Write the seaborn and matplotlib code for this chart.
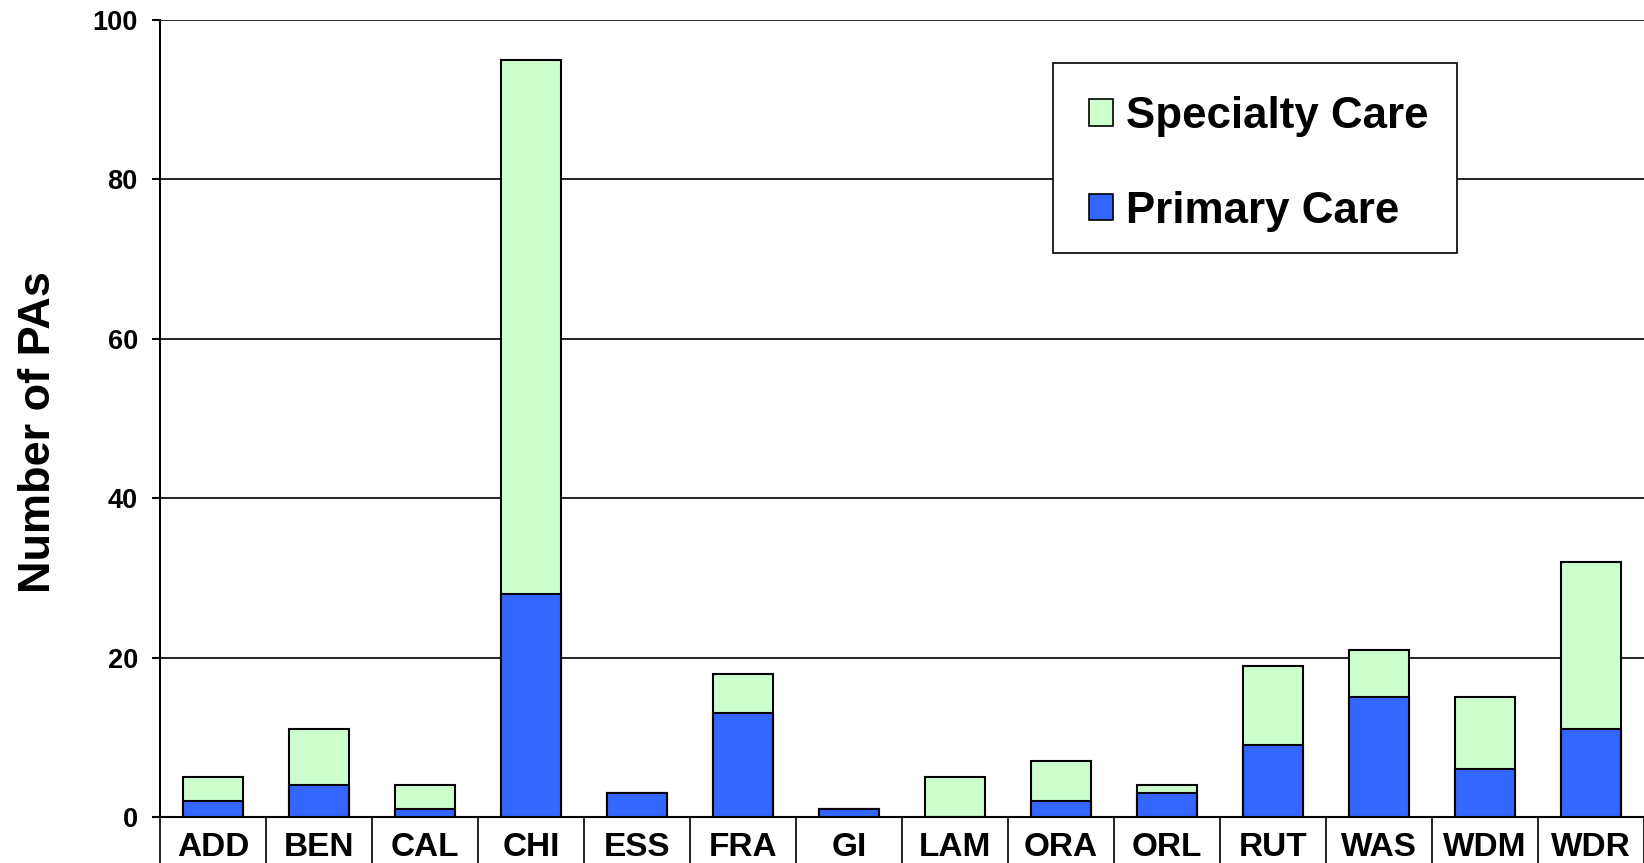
import pandas as pd
import matplotlib
matplotlib.use('Agg')
import matplotlib.pyplot as plt
import matplotlib.transforms as mtransforms
from matplotlib.patches import Patch, Rectangle
import seaborn as sns

# Chart data
programs = ['ADD', 'BEN', 'CAL', 'CHI', 'ESS', 'FRA', 'GI', 'LAM', 'ORA', 'ORL', 'RUT', 'WAS', 'WDM', 'WDR']
primary_care = [2, 4, 1, 28, 3, 13, 1, 0, 2, 3, 9, 15, 6, 11]
specialty_care = [3, 7, 3, 67, 0, 5, 0, 5, 5, 1, 10, 6, 9, 21]
y_ticks = [0, 20, 40, 60, 80, 100]

green = '#CCFFCC'
blue = '#3366FF'

sns.set_style('white')
plt.rcParams['font.family'] = ['Liberation Sans', 'DejaVu Sans']
plt.rcParams['font.weight'] = 'bold'
plt.rcParams['text.color'] = 'black'
plt.rcParams['xtick.color'] = 'black'
plt.rcParams['ytick.color'] = 'black'

df = pd.DataFrame({'program': programs, 'primary': primary_care, 'specialty': specialty_care})
df['total'] = df['primary'] + df['specialty']

W, H = 1644, 863
fig = plt.figure(figsize=(W / 100, H / 100), dpi=100)
ax = fig.add_axes([160 / W, 46 / H, 1484 / W, 797 / H])

# stacked bars: total (green) behind, primary (blue) in front
sns.barplot(data=df, x='program', y='total', color=green, width=0.575,
            edgecolor='black', linewidth=1.5, saturation=1, ax=ax, zorder=3)
sns.barplot(data=df, x='program', y='primary', color=blue, width=0.575,
            edgecolor='black', linewidth=1.5, saturation=1, ax=ax, zorder=3)

ax.set_xlim(-0.5, len(programs) - 0.5)
ax.set_ylim(0, 100)
ax.set_yticks(y_ticks)
ax.set_yticklabels([str(t) for t in y_ticks], fontsize=19.5, fontweight='bold', color='black')
ax.tick_params(axis='y', length=6, width=1.5, pad=10, left=True, color='black')
ax.tick_params(axis='x', length=0, pad=11, labelsize=24, labelcolor='black')
for lbl in ax.get_xticklabels():
    lbl.set_fontweight('bold')
ax.set_xlabel('')
ax.set_ylabel('')

# gridlines
ax.yaxis.grid(True, color='black', linewidth=1.2)
ax.set_axisbelow(True)
for side in ['top', 'right']:
    ax.spines[side].set_visible(False)
ax.spines['left'].set_linewidth(1.5)
ax.spines['bottom'].set_linewidth(1.5)
ax.spines['left'].set_color('black')
ax.spines['bottom'].set_color('black')

# table-like separators below the axis
trans = mtransforms.blended_transform_factory(ax.transData, ax.transAxes)
for i in range(len(programs) + 1):
    ax.plot([i - 0.5, i - 0.5], [0, -0.1], transform=trans, color='black',
            linewidth=1.2, clip_on=False)

fig.text(38 / W, 1 - 432 / H, 'Number of PAs', rotation=90, ha='center', va='center',
         fontsize=32.5, fontweight='bold', color='black')

# legend box drawn separately so the padding can match
ax.add_patch(Rectangle((1053 / W, 1 - 253 / H), 404 / W, 190 / H, transform=fig.transFigure,
                       facecolor='white', edgecolor='black', linewidth=1.2, zorder=4,
                       clip_on=False))
handles = [Patch(facecolor=green, edgecolor='black', linewidth=1.2),
           Patch(facecolor=blue, edgecolor='black', linewidth=1.2)]
leg = ax.legend(handles, ['Specialty Care', 'Primary Care'], loc='upper left',
                bbox_to_anchor=(1089 / W, 1 - 96 / H), bbox_transform=fig.transFigure,
                prop={'size': 31.6, 'weight': 'bold'}, handlelength=0.55, handleheight=0.55,
                handletextpad=0.3, labelspacing=1.22, borderpad=0, borderaxespad=0,
                frameon=False)
leg.set_zorder(6)
for t in leg.get_texts():
    t.set_color('black')

fig.savefig('out.png', dpi=100)
